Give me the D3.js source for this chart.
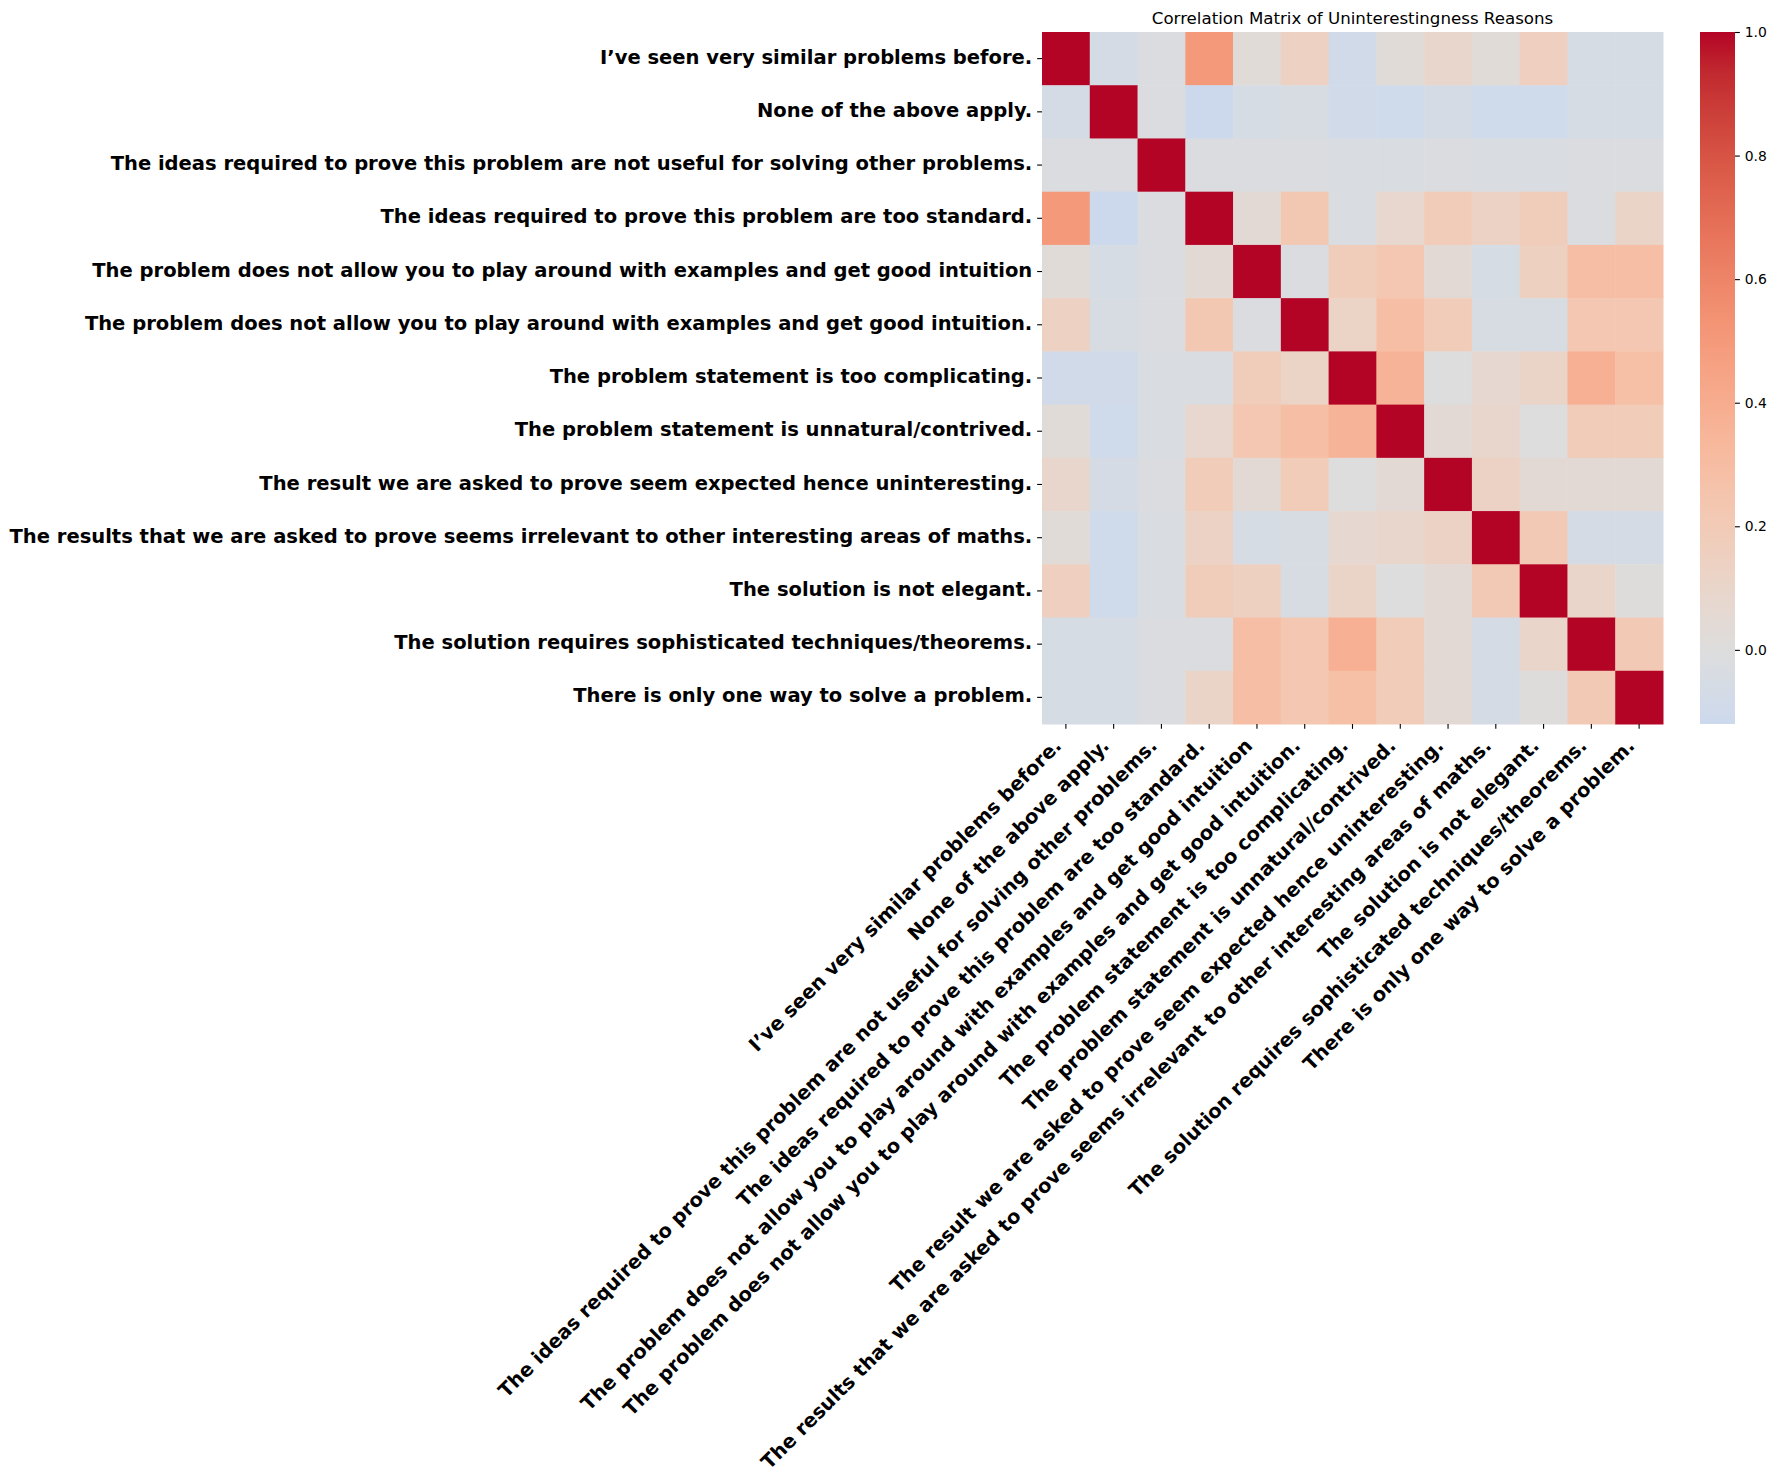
<!DOCTYPE html>
<html lang="en">
<head>
<meta charset="UTF-8">
<title>Correlation Matrix of Uninterestingness Reasons</title>
<style>
    body {
        margin: 0;
        background-color: #fff;
        font-family: "DejaVu Sans", sans-serif;
    }
    #chart {
        display: block;
    }
    .ylab text, .xlab text {
        font-size: 19.55px;
        font-weight: bold;
        fill: #000;
    }
    .cbar text {
        font-size: 13.9px;
        fill: #000;
    }
    .tick line {
        stroke: #000;
        stroke-width: 1.1px;
    }
</style>
</head>
<body>
<svg id="chart" width="1776" height="1481"></svg>
<script src="https://d3js.org/d3.v7.min.js"></script>
<script>
    const reasons = [
        "I\u2019ve seen very similar problems before.",
        "None of the above apply.",
        "The ideas required to prove this problem are not useful for solving other problems.",
        "The ideas required to prove this problem are too standard.",
        "The problem does not allow you to play around with examples and get good intuition",
        "The problem does not allow you to play around with examples and get good intuition.",
        "The problem statement is too complicating.",
        "The problem statement is unnatural/contrived.",
        "The result we are asked to prove seem expected hence uninteresting.",
        "The results that we are asked to prove seems irrelevant to other interesting areas of maths.",
        "The solution is not elegant.",
        "The solution requires sophisticated techniques/theorems.",
        "There is only one way to solve a problem."
    ];

    // correlation values, one row per reason
    const corr = [
        [1, -0.06, -0.02, 0.5, 0.03, 0.14, -0.09, 0.03, 0.09, 0.03, 0.16, -0.05, -0.05],
        [-0.06, 1, -0.02, -0.12, -0.05, -0.04, -0.09, -0.1, -0.06, -0.1, -0.1, -0.05, -0.05],
        [-0.02, -0.02, 1, -0.02, -0.02, -0.02, -0.03, -0.03, -0.02, -0.03, -0.03, -0.02, -0.02],
        [0.5, -0.12, -0.02, 1, 0.05, 0.22, -0.03, 0.08, 0.19, 0.13, 0.18, -0.02, 0.11],
        [0.03, -0.05, -0.02, 0.05, 1, -0.02, 0.18, 0.23, 0.05, -0.05, 0.15, 0.29, 0.29],
        [0.14, -0.04, -0.02, 0.22, -0.02, 1, 0.12, 0.29, 0.19, -0.04, -0.04, 0.23, 0.23],
        [-0.09, -0.09, -0.03, -0.03, 0.18, 0.12, 1, 0.36, 0.0, 0.07, 0.11, 0.38, 0.28],
        [0.03, -0.1, -0.03, 0.08, 0.23, 0.29, 0.36, 1, 0.05, 0.09, 0.0, 0.19, 0.19],
        [0.09, -0.06, -0.02, 0.19, 0.05, 0.19, 0.0, 0.05, 1, 0.13, 0.05, 0.05, 0.05],
        [0.03, -0.1, -0.03, 0.13, -0.05, -0.04, 0.07, 0.09, 0.13, 1, 0.21, -0.06, -0.06],
        [0.16, -0.1, -0.03, 0.18, 0.15, -0.04, 0.11, 0.0, 0.05, 0.21, 1, 0.1, 0.01],
        [-0.05, -0.05, -0.02, -0.02, 0.29, 0.23, 0.38, 0.19, 0.05, -0.06, 0.1, 1, 0.21],
        [-0.05, -0.05, -0.02, 0.11, 0.29, 0.23, 0.28, 0.19, 0.05, -0.06, 0.01, 0.21, 1]
    ];

    const cbarTicks = [0.0, 0.2, 0.4, 0.6, 0.8, 1.0];

    // matplotlib "coolwarm" control points (position, r, g, b)
    const coolwarm = [
        [0.0, 0.2298, 0.2987, 0.7537], [0.0625, 0.3039, 0.4065, 0.8450],
        [0.125, 0.3830, 0.5094, 0.9174], [0.1875, 0.4667, 0.6046, 0.9682],
        [0.25, 0.5530, 0.6889, 0.9954], [0.3125, 0.6392, 0.7596, 0.9982],
        [0.375, 0.7222, 0.8140, 0.9766], [0.40625, 0.7615, 0.8343, 0.9569],
        [0.4375, 0.7987, 0.8498, 0.9317], [0.46875, 0.8335, 0.8602, 0.9011],
        [0.5, 0.8654, 0.8654, 0.8654], [0.53125, 0.8978, 0.8489, 0.8209],
        [0.5625, 0.9241, 0.8274, 0.7745], [0.59375, 0.9445, 0.8009, 0.7267],
        [0.625, 0.9589, 0.7698, 0.6780], [0.65625, 0.9673, 0.7341, 0.6288],
        [0.6875, 0.9700, 0.6943, 0.5794], [0.71875, 0.9668, 0.6504, 0.5303],
        [0.75, 0.9580, 0.6028, 0.4818], [0.78125, 0.9437, 0.5518, 0.4342],
        [0.8125, 0.9239, 0.4973, 0.3880], [0.84375, 0.8990, 0.4396, 0.3432],
        [0.875, 0.8692, 0.3783, 0.3003], [0.90625, 0.8346, 0.3129, 0.2593],
        [0.9375, 0.7956, 0.2413, 0.2205], [0.96875, 0.7525, 0.1572, 0.1841],
        [1.0, 0.7057, 0.0156, 0.1502]
    ];
    const cmap = d3.scaleLinear()
        .domain(coolwarm.map(d => d[0]))
        .range(coolwarm.map(d => d3.rgb(d[1] * 255, d[2] * 255, d[3] * 255)))
        .interpolate(d3.interpolateRgb)
        .clamp(true);

    // seaborn heatmap centred on 0: colormap spans [-1, 1], cut to the data range
    const vmin = d3.min(corr.flat());
    const vmax = 1;
    const color = v => cmap((v + 1) / 2);

    const svg = d3.select("#chart");
    const plotLeft = 1042, plotRight = 1663, plotTop = 32, plotBottom = 724;

    const x = d3.scaleBand().domain(reasons).range([plotLeft, plotRight]);
    const y = d3.scaleBand().domain(reasons).range([plotTop, plotBottom]);

    // cells
    const cells = [];
    corr.forEach((row, i) => row.forEach((v, j) => cells.push({r: reasons[i], c: reasons[j], v: v})));

    svg.append("g")
        .selectAll("rect")
        .data(cells)
        .enter().append("rect")
        .attr("x", d => x(d.c))
        .attr("y", d => y(d.r))
        .attr("width", x.bandwidth() + 0.5)
        .attr("height", y.bandwidth() + 0.5)
        .attr("fill", d => color(d.v));

    // y axis
    const yAxis = svg.append("g")
        .attr("class", "ylab")
        .attr("transform", `translate(${plotLeft},0)`)
        .call(d3.axisLeft(y).tickSize(4.86).tickPadding(4.86));
    yAxis.select(".domain").remove();
    yAxis.selectAll("text")
        .attr("dy", "0.26em")
        .style("font-family", "DejaVu Sans");

    // x axis with 45 degree labels
    const xAxis = svg.append("g")
        .attr("class", "xlab")
        .attr("transform", `translate(0,${plotBottom})`)
        .call(d3.axisBottom(x).tickSize(4.86).tickPadding(4.86));
    xAxis.select(".domain").remove();
    xAxis.selectAll("text")
        .attr("dy", null)
        .attr("x", -3.3)
        .attr("y", 23)
        .attr("text-anchor", "end")
        .attr("transform", "rotate(-45,-3.3,23)")
        .style("font-family", "DejaVu Sans");

    // title
    svg.append("text")
        .attr("x", (plotLeft + plotRight) / 2)
        .attr("y", 24)
        .attr("text-anchor", "middle")
        .style("font-family", "DejaVu Sans")
        .style("font-size", "16.67px")
        .text("Correlation Matrix of Uninterestingness Reasons");

    // colorbar
    const cbLeft = 1700, cbRight = 1735;
    const cy = d3.scaleLinear().domain([vmin, vmax]).range([plotBottom, plotTop]);

    const grad = svg.append("defs").append("linearGradient")
        .attr("id", "cbgrad")
        .attr("x1", 0).attr("y1", 1).attr("x2", 0).attr("y2", 0);
    d3.range(0, 1.0001, 0.02).forEach(t => {
        grad.append("stop")
            .attr("offset", t)
            .attr("stop-color", color(vmin + t * (vmax - vmin)));
    });

    svg.append("rect")
        .attr("x", cbLeft)
        .attr("y", cy(vmax))
        .attr("width", cbRight - cbLeft)
        .attr("height", cy(vmin) - cy(vmax))
        .attr("fill", "url(#cbgrad)");

    const cAxis = svg.append("g")
        .attr("class", "cbar")
        .attr("transform", `translate(${cbRight},0)`)
        .call(d3.axisRight(cy).tickValues(cbarTicks).tickFormat(d3.format(".1f")).tickSize(4.86).tickPadding(4.86));
    cAxis.select(".domain").remove();
    cAxis.selectAll("text")
        .style("font-family", "DejaVu Sans");
</script>
</body>
</html>
